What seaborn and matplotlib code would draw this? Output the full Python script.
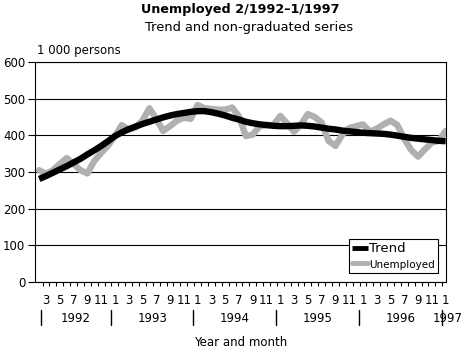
import numpy as np
import pandas as pd
import matplotlib
matplotlib.use('Agg')
import matplotlib.pyplot as plt
import matplotlib.transforms as mtransforms
import seaborn as sns

# Kuukaudet 2/1992 - 1/1997
periods = pd.period_range('1992-02', '1997-01', freq='M')
month_numbers = [p.month for p in periods]
years = [1992, 1993, 1994, 1995, 1996, 1997]

# Trendi (1 000 henkeä)
trend = [281, 289, 298, 307, 316, 326, 336, 348, 359, 371, 384, 398,
         408, 417, 424, 431, 437, 443, 449, 454, 458, 461, 464, 466,
         466, 463, 459, 454, 448, 443, 437, 433, 430, 428, 426, 425,
         425, 426, 427, 426, 424, 421, 418, 416, 413, 411, 409, 407,
         406, 405, 404, 402, 399, 396, 393, 391, 389, 387, 385, 384]

# Tasoittamaton sarja (1 000 henkeä)
unemployed = [305, 295, 305, 322, 338, 322, 305, 296, 330, 352, 372, 398,
              428, 415, 422, 440, 474, 445, 412, 425, 440, 448, 445, 483,
              474, 472, 470, 470, 476, 452, 398, 402, 425, 428, 428, 453,
              432, 410, 430, 458, 450, 435, 385, 371, 402, 420, 425, 430,
              410, 418, 430, 440, 428, 390, 360, 342, 362, 380, 385, 412]

sns.set_style('white')
plt.rcParams['font.family'] = ['DejaVu Sans']
plt.rcParams['text.color'] = 'black'
plt.rcParams['axes.labelcolor'] = 'black'
plt.rcParams['xtick.color'] = 'black'
plt.rcParams['ytick.color'] = 'black'

W, H = 469, 351
fig = plt.figure(figsize=(W / 100, H / 100), dpi=100)
ax = fig.add_axes([35 / W, 1 - 282 / H, 411 / W, 220 / H])

idx = np.arange(len(periods))
df = pd.DataFrame({'idx': idx, 'Trend': trend, 'Unemployed': unemployed})

sns.lineplot(data=df, x='idx', y='Unemployed', ax=ax, color='#b0b0b0',
             linewidth=4.6, label='Unemployed', solid_joinstyle='round')
sns.lineplot(data=df, x='idx', y='Trend', ax=ax, color='black',
             linewidth=4.6, label='Trend', solid_capstyle='butt')

# akselit
ax.set_xlim(-0.6, len(periods) - 0.95)
ax.set_ylim(0, 600)
ax.set_yticks(range(0, 601, 100))
ax.yaxis.grid(True, color='black', linewidth=0.8)
ax.set_axisbelow(True)
for s in ax.spines.values():
    s.set_color('black')
    s.set_linewidth(0.8)

ax.tick_params(axis='y', direction='out', length=5, width=0.8, pad=2,
               labelsize=8.5, left=True)

# kuukausien nimiöt parittomille kuukausille
lab_pos = [i for i, m in enumerate(month_numbers) if m % 2 == 1]
ax.set_xticks(lab_pos)
ax.set_xticklabels([str(month_numbers[i]) for i in lab_pos], fontsize=8.5)
ax.set_xticks(idx[:-1] + 0.5, minor=True)
ax.tick_params(axis='x', which='major', length=0, pad=9, bottom=True)
ax.tick_params(axis='x', which='minor', direction='out', length=3,
               width=0.8, bottom=True)
ax.set_xlabel('')
ax.set_ylabel('')

# vuodet ja erottimet
blend = mtransforms.blended_transform_factory(ax.transData, ax.transAxes)
jan_pos = [i for i, m in enumerate(month_numbers) if m == 1]
seps = [0.3] + [j - 0.6 for j in jan_pos]
for x in seps:
    ax.plot([x, x], [-28 / 220, -43 / 220], transform=blend, color='black',
            linewidth=1, clip_on=False)
for k, yr in enumerate(years[:-1]):
    xc = (seps[k] + seps[k + 1]) / 2
    ax.text(xc, -36 / 220, str(yr), transform=blend, ha='center',
            va='center', fontsize=8.5)
ax.text(jan_pos[-1] + 0.3, -36 / 220, str(years[-1]), transform=blend,
        ha='center', va='center', fontsize=8.5)

ax.text(0.5, -61 / 220, 'Year and month', transform=ax.transAxes,
        ha='center', va='center', fontsize=8.5)
ax.text(0.005, 1 + 12 / 220, '1 000 persons', transform=ax.transAxes,
        ha='left', va='center', fontsize=8.5)

# otsikot
fig.text(240 / W, 1 - 10 / H, 'Unemployed 2/1992\u20131/1997', ha='center',
         va='center', fontsize=9.2, fontweight='bold')
fig.text(249 / W, 1 - 28 / H, 'Trend and non-graduated series',
         ha='center', va='center', fontsize=9.4)

# selite
handles, labels = ax.get_legend_handles_labels()
order = [labels.index('Trend'), labels.index('Unemployed')]
leg = ax.legend([handles[i] for i in order], [labels[i] for i in order],
                loc='lower right', bbox_to_anchor=(0.981, 0.041),
                fontsize=9.5, frameon=True, fancybox=False, shadow=False,
                handlelength=1.2, handletextpad=0.1, borderpad=0.25,
                labelspacing=0.25, borderaxespad=0)
leg.get_frame().set_edgecolor('black')
leg.get_frame().set_linewidth(0.8)
leg.get_frame().set_alpha(1)
leg.get_texts()[1].set_fontsize(7.5)
for h in leg.legend_handles:
    h.set_linewidth(3.5)

fig.savefig('out.png', dpi=100, facecolor='white')
